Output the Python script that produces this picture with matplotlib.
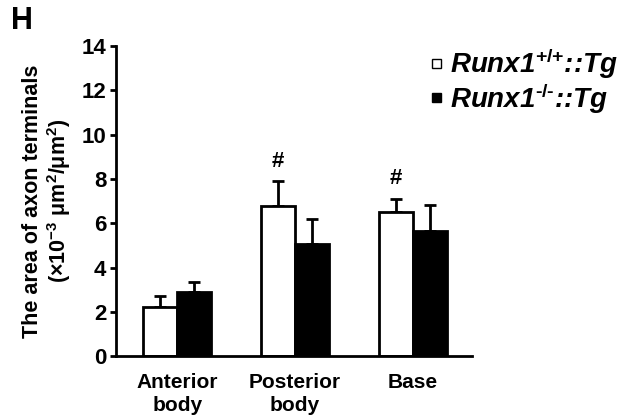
import numpy as np
import matplotlib.pyplot as plt
from matplotlib.patches import Patch

plt.rcParams['font.family'] = ['Liberation Sans', 'DejaVu Sans']
plt.rcParams['font.weight'] = 'bold'
plt.rcParams['mathtext.fontset'] = 'custom'
plt.rcParams['mathtext.rm'] = 'Liberation Sans:bold'
plt.rcParams['mathtext.it'] = 'Liberation Sans:bold:italic'
plt.rcParams['mathtext.bf'] = 'Liberation Sans:bold'

regions = ['Anterior\nbody', 'Posterior\nbody', 'Base']
wt_mean = [2.2, 6.8, 6.5]
wt_err = [0.5, 1.1, 0.6]
ko_mean = [2.9, 5.05, 5.65]
ko_err = [0.45, 1.15, 1.2]
wt_sig = [False, True, True]

fig = plt.figure(figsize=(6.24, 4.2), dpi=100)
ax = fig.add_axes([0.186, 0.152, 0.570, 0.738])

x = np.arange(len(regions))
w = 0.29
lw = 2.0

# error bars sit under the bars so only the upper whisker shows
ax.errorbar(x - w / 2, wt_mean, yerr=[np.zeros(3), wt_err], fmt='none',
            ecolor='black', elinewidth=lw, capsize=4, capthick=lw, zorder=1)
ax.errorbar(x + w / 2, ko_mean, yerr=[np.zeros(3), ko_err], fmt='none',
            ecolor='black', elinewidth=lw, capsize=4, capthick=lw, zorder=1)
ax.bar(x - w / 2, wt_mean, w, color='white', edgecolor='black', linewidth=lw, zorder=2)
ax.bar(x + w / 2, ko_mean, w, color='black', edgecolor='black', linewidth=lw, zorder=2)

for xi, m, e, s in zip(x, wt_mean, wt_err, wt_sig):
    if s:
        ax.annotate('#', (xi - w / 2, m + e), xytext=(0, 7), textcoords='offset points',
                    ha='center', va='bottom', fontsize=16, fontweight='bold')

ax.set_xlim(-0.52, 2.5)
ax.set_ylim(0, 14)
ax.set_yticks(np.arange(0, 15, 2))
ax.set_xticks(x)
ax.set_xticklabels(regions, fontsize=15, fontweight='bold', linespacing=1.3)
ax.tick_params(axis='x', length=0, pad=12)
ax.tick_params(axis='y', direction='out', length=4, width=lw, labelsize=16, pad=3)
for t in ax.get_yticklabels():
    t.set_fontweight('bold')
for side in ['top', 'right']:
    ax.spines[side].set_visible(False)
for side in ['left', 'bottom']:
    ax.spines[side].set_linewidth(lw)

ax.set_ylabel('The area of axon terminals\n'
              r'(×10$^{\mathbf{-3}}$ μm$^{\mathbf{2}}$/μm$^{\mathbf{2}}$)',
              fontsize=15.5, fontweight='bold', labelpad=6, linespacing=1.1)

handles = [Patch(facecolor='white', edgecolor='black', linewidth=1.0),
           Patch(facecolor='black', edgecolor='black', linewidth=1.0)]
labels = [r'Runx1$^{\text{+/+}}$::Tg', r'Runx1$^{\text{-/-}}$::Tg']
# small square keys, sitting just above the text baseline
ax.legend(handles, labels, loc='upper left', bbox_to_anchor=(0.675, 0.915),
          bbox_transform=fig.transFigure, frameon=False,
          prop={'size': 20, 'weight': 'bold', 'style': 'italic'},
          handlelength=0.33, handleheight=0.12, handletextpad=0.29,
          labelspacing=0.0, borderaxespad=0)

fig.text(0.018, 0.985, 'H', fontsize=22, fontweight='bold', va='top', ha='left')

fig.savefig('out.png', dpi=100)
